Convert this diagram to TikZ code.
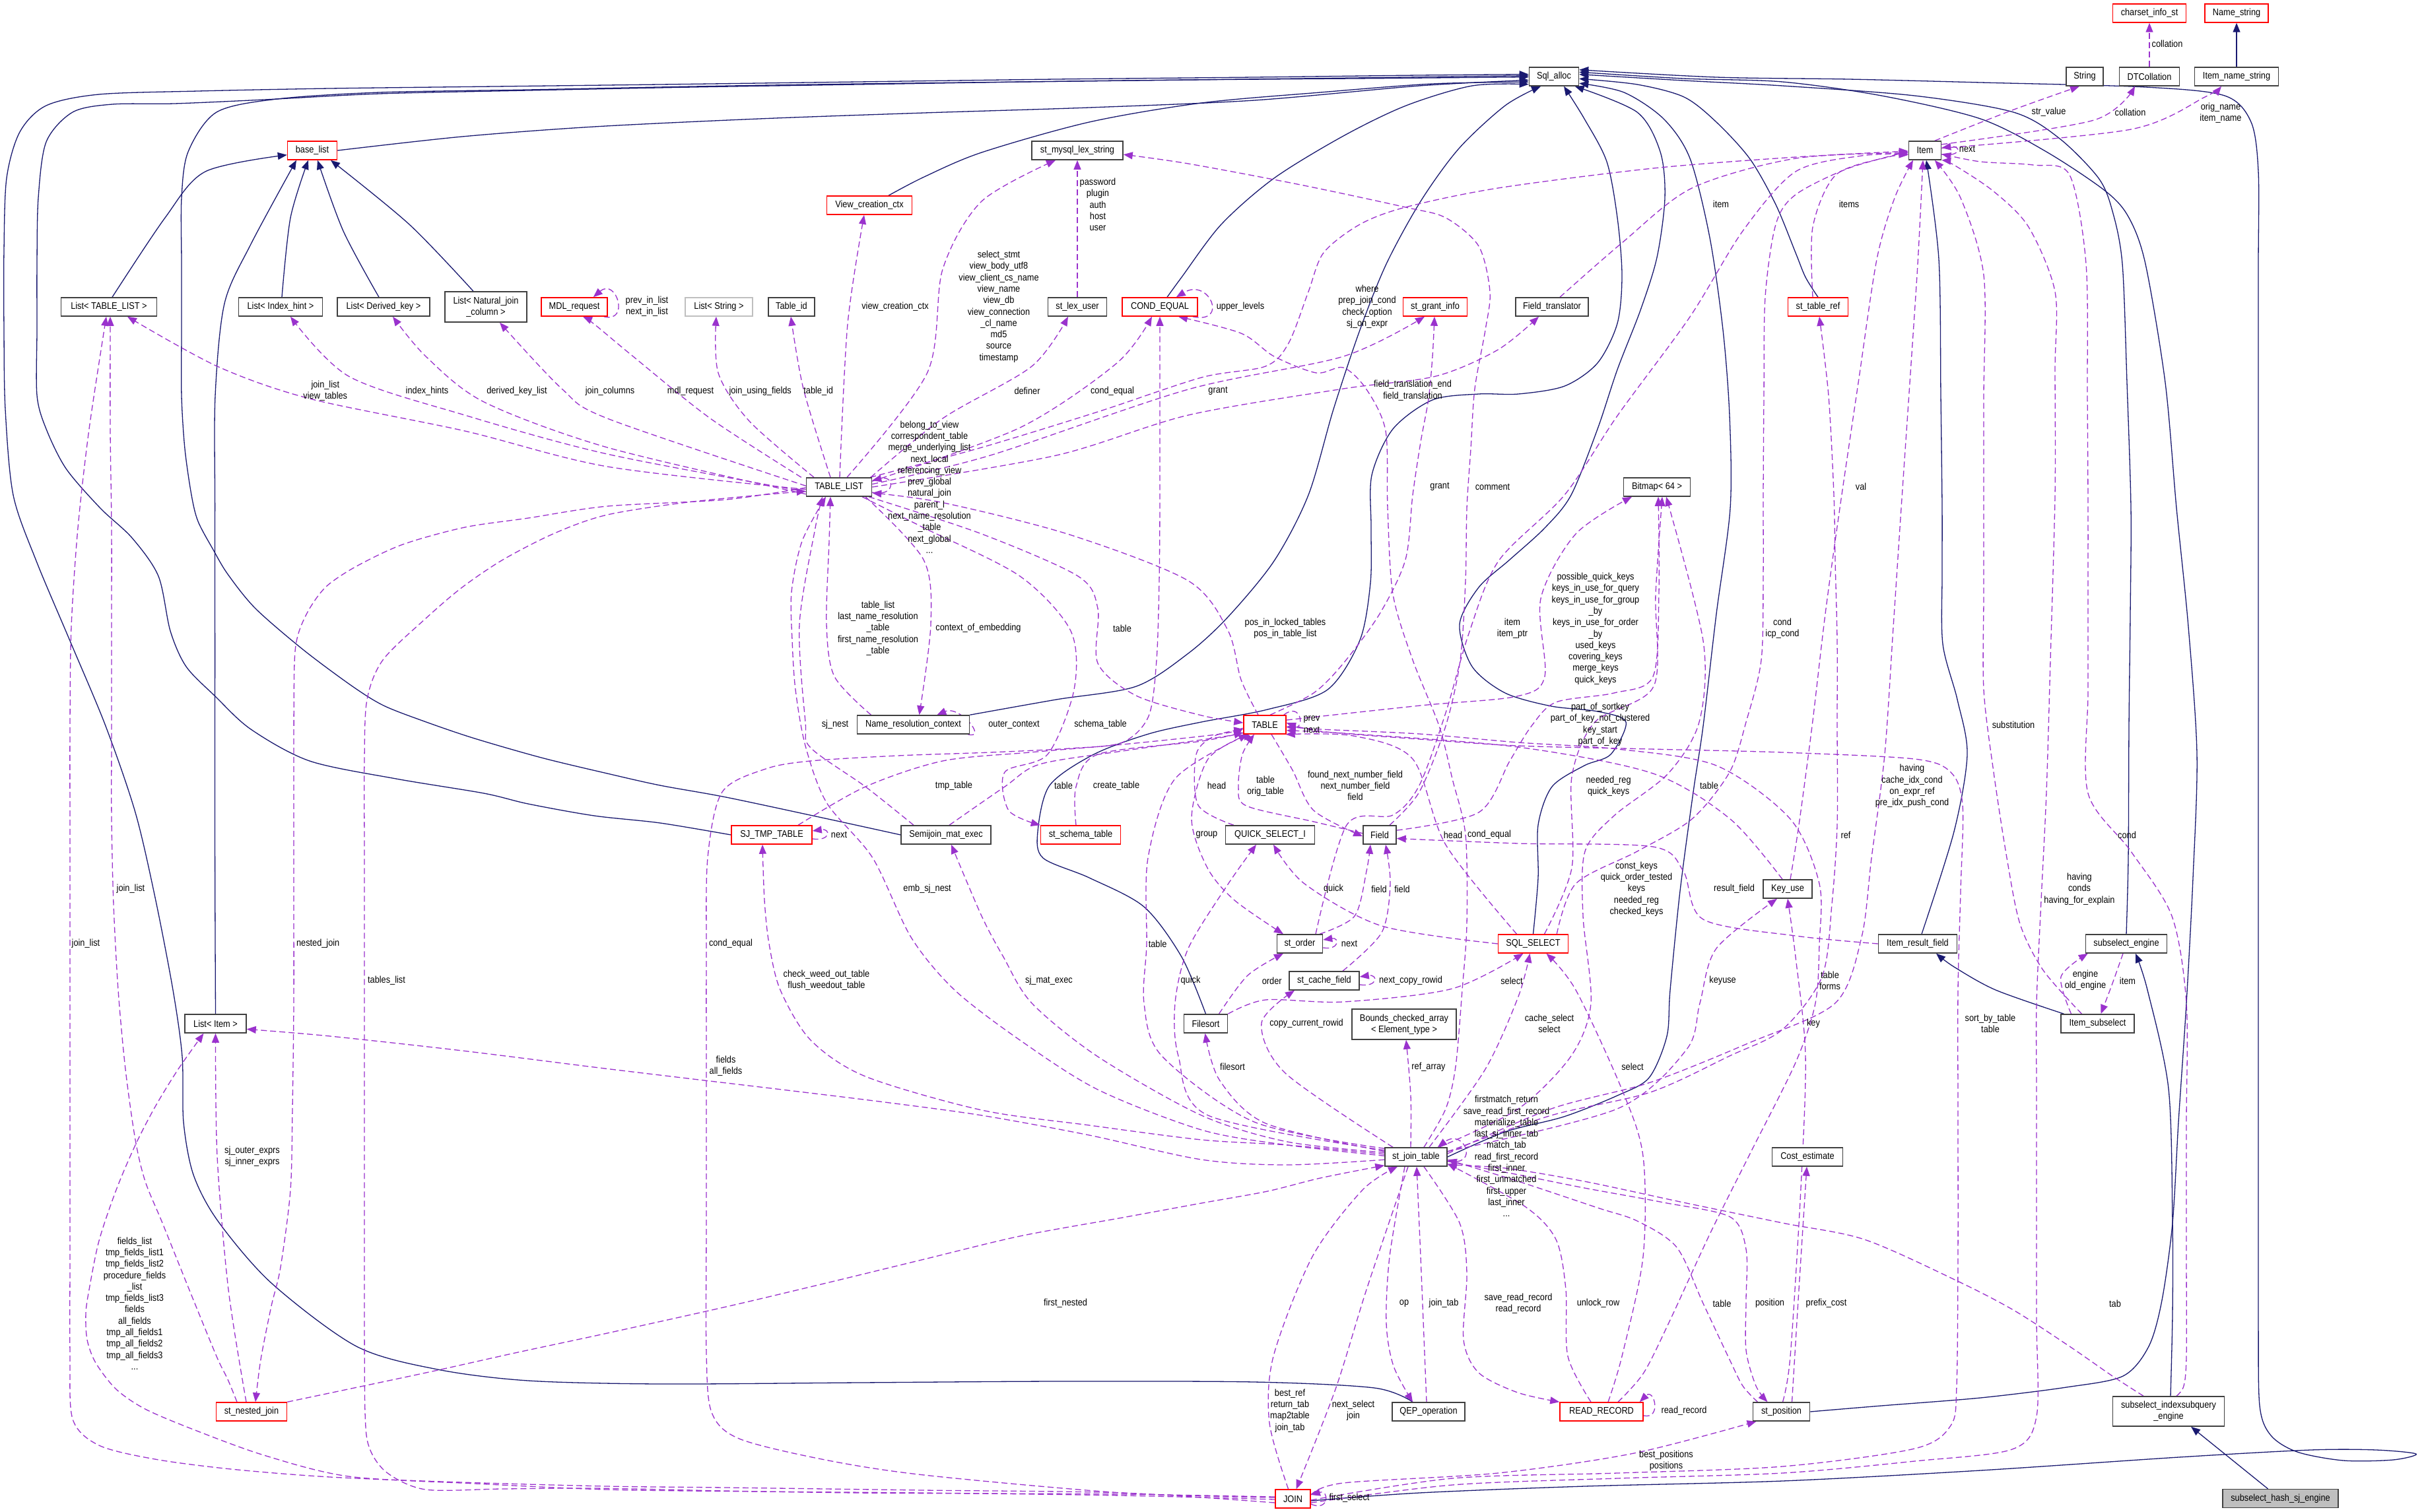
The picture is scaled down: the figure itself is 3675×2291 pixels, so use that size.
\documentclass[tikz,border=0pt]{standalone}
\usepackage{fontspec}
\setmainfont{Liberation Sans}[FakeStretch=0.88]
\usetikzlibrary{arrows.meta}
\definecolor{navyc}{HTML}{191970}
\definecolor{orch}{HTML}{9A32CD}
\definecolor{bline}{HTML}{404040}
\definecolor{gfill}{HTML}{BFBFBF}
\newcommand{\lf}{\fontsize{14.5}{17.3}\selectfont}
\newcommand{\edg}[2]{\draw[#1] plot[smooth,tension=0.5] coordinates {#2};}
\pgfdeclarelayer{bg}
\pgfsetlayers{bg,main}
\begin{document}
\begin{tikzpicture}[x=1pt,y=-1pt,
 cbox/.style={draw=bline,line width=1.5pt,fill=white,minimum height=28pt,inner sep=2pt,font=\lf,align=center},
 rcbox/.style={cbox,draw=red},
 gcbox/.style={cbox,draw=gfill},
 lbl/.style={font=\lf,align=center,inner sep=0pt},
 inh/.style={draw=navyc,line width=1.3pt,-{Triangle[length=14pt,width=11pt]}},
 dep/.style={draw=orch,line width=1.3pt,dash pattern=on 9pt off 5pt,-{Triangle[length=14pt,width=11pt]}}]
\useasboundingbox (0,0) rectangle (3675,2291);
% ---------------- nodes
\node[cbox,minimum width=75pt] (SA) at (2354,116) {Sql\_alloc};
\node[rcbox,minimum width=75pt] (BL) at (473,228) {base\_list};
\node[cbox,minimum width=145pt] (LTL) at (165,465) {List< TABLE\_LIST >};
\node[cbox,minimum width=127pt] (LIH) at (425,465) {List< Index\_hint >};
\node[cbox,minimum width=140pt] (LDK) at (581,465) {List< Derived\_key >};
\node[cbox,minimum width=124pt,minimum height=46pt] (LNJ) at (736,465) {List< Natural\_join\\\_column >};
\node[rcbox,minimum width=100pt] (MDL) at (870,465) {MDL\_request};
\node[gcbox,minimum width=102pt] (LS) at (1089,465) {List< String >};
\node[cbox,minimum width=70pt] (TID) at (1199,465) {Table\_id};
\node[rcbox,minimum width=129pt] (VCC) at (1317,311) {View\_creation\_ctx};
\node[cbox,minimum width=138pt] (MLS) at (1632,228) {st\_mysql\_lex\_string};
\node[cbox,minimum width=89pt] (LU) at (1632,465) {st\_lex\_user};
\node[rcbox,minimum width=114pt] (CE) at (1757,465) {COND\_EQUAL};
\node[cbox,minimum width=99pt] (TL) at (1271,738) {TABLE\_LIST};
\node[rcbox,minimum width=97pt] (GI) at (2174,465) {st\_grant\_info};
\node[cbox,minimum width=110pt] (FT) at (2351,465) {Field\_translator};
\node[cbox,minimum width=101pt] (BM) at (2510,738) {Bitmap< 64 >};
\node[rcbox,minimum width=111pt] (CIS) at (3256,20) {charset\_info\_st};
\node[rcbox,minimum width=96pt] (NS) at (3388,20) {Name\_string};
\node[cbox,minimum width=56pt] (STR) at (3158,116) {String};
\node[cbox,minimum width=91pt] (DTC) at (3256,116) {DTCollation};
\node[cbox,minimum width=127pt] (INS) at (3388,116) {Item\_name\_string};
\node[cbox,minimum width=49pt] (IT) at (2916,228) {Item};
\node[rcbox,minimum width=91pt] (TR) at (2754,465) {st\_table\_ref};
\node[cbox,minimum width=170pt] (NRC) at (1383.5,1098) {Name\_resolution\_context};
\node[rcbox,minimum width=122pt] (SJT) at (1169,1265) {SJ\_TMP\_TABLE};
\node[cbox,minimum width=136pt] (SME) at (1433,1265) {Semijoin\_mat\_exec};
\node[rcbox,minimum width=121pt] (SST) at (1637,1265) {st\_schema\_table};
\node[rcbox,minimum width=64pt] (TB) at (1916,1098) {TABLE};
\node[cbox,minimum width=135pt] (QS) at (1924,1265) {QUICK\_SELECT\_I};
\node[cbox,minimum width=50pt] (FD) at (2090,1265) {Field};
\node[cbox,minimum width=69pt] (SO) at (1969,1430) {st\_order};
\node[cbox,minimum width=106pt] (SCF) at (2006,1486) {st\_cache\_field};
\node[rcbox,minimum width=106pt] (SS) at (2322.5,1430) {SQL\_SELECT};
\node[cbox,minimum width=74pt] (KU) at (2708,1347) {Key\_use};
\node[cbox,minimum width=119pt] (IRF) at (2905,1430) {Item\_result\_field};
\node[cbox,minimum width=123pt] (SE) at (3221,1430) {subselect\_engine};
\node[cbox,minimum width=93pt] (LI) at (326.5,1551) {List< Item >};
\node[rcbox,minimum width=107pt] (NJ) at (381,2139) {st\_nested\_join};
\node[cbox,minimum width=66pt] (FS) at (1826.5,1551) {Filesort};
\node[cbox,minimum width=158pt,minimum height=46pt] (BCA) at (2127,1552) {Bounds\_checked\_array\\< Element\_type >};
\node[cbox,minimum width=94pt] (JT) at (2145,1753) {st\_join\_table};
\node[cbox,minimum width=110pt] (QEP) at (2164,2139) {QEP\_operation};
\node[rcbox,minimum width=126pt] (RR) at (2426,2139) {READ\_RECORD};
\node[cbox,minimum width=86pt] (SP) at (2698.5,2139) {st\_position};
\node[rcbox,minimum width=53pt] (JN) at (1958.6,2271) {JOIN};
\node[cbox,minimum width=107pt] (CEST) at (2738,1753) {Cost\_estimate};
\node[cbox,minimum width=111pt] (IS) at (3177.5,1551) {Item\_subselect};
\node[cbox,minimum width=169pt,minimum height=45pt] (SIE) at (3285,2138.5) {subselect\_indexsubquery\\\_engine};
\node[cbox,fill=gfill,minimum width=175pt] (HSJ) at (3454.5,2270.6) {subselect\_hash\_sj\_engine};
% ---------------- edges
\begin{pgfonlayer}{bg}
\fill[white] (0,0) rectangle (3675,2291);
% inheritance
\edg{inh}{(BL.east) (700,207) (900,192) (1150,180) (1400,171) (1650,163) (1900,152) (2150,130) (SA.-172)}
\edg{inh}{([xshift=29pt]VCC.north) (1400,268) (1487,231) (1650,185) (1820,156) (2000,140) (2170,127) (SA.-168)}
\edg{inh}{([xshift=11pt]CE.north) (1790,420) (1850,340) (1930,270) (2035,206) (2130,160) (2230,130) (SA.-163)}
\edg{inh}{([xshift=-24pt]QEP.north) (2082,2103) (1900,2094) (1600,2093) (1300,2095) (1000,2097) (800,2092) (663,2075) (540,2040) (411,1944) (330,1850) (293,1780) (278,1700) (276,1601) (262,1500) (235,1360) (205,1231) (160,1100) (106,971) (55,850) (20,750) (8,620) (6,500) (6,380) (10,270) (30,200) (70,160) (150,143) (300,138) (500,134) (750,131) (1000,128) (1300,124) (1600,120) (1900,117) (2150,114) (SA.175)}
\edg{inh}{(SJT.west) (1000,1247) (900,1236) (800,1218) (733,1202) (600,1180) (469,1153) (380,1105) (326,1055) (282,1010) (258,956) (240,873) (200,815) (152,770) (100,710) (70,650) (56,599) (56,500) (56,400) (58,300) (70,215) (110,170) (170,158) (264,157) (400,151) (575,142) (800,137) (1050,132) (1300,128) (1550,124) (1800,121) (2050,118) (SA.178)}
\edg{inh}{(SME.west) (1250,1240) (1100,1208) (1000,1190) (920,1172) (820,1148) (716,1118) (640,1092) (581,1069) (534,1040) (460,985) (387,922) (345,870) (323,833) (300,790) (290,750) (280,680) (275,600) (275,500) (275,400) (275,300) (285,230) (328,170) (420,150) (575,140) (800,136) (1050,131) (1300,127) (1550,124) (1800,121) (2050,119) (SA.-179)}
\edg{inh}{(NRC.north east) (1600,1060) (1721,1040) (1800,990) (1860,935) (1930,850) (1982,750) (2020,620) (2060,500) (2100,400) (2152,305) (2210,225) (2280,160) ([xshift=-20pt]SA.south)}
\edg{inh}{(FS.north) (1790,1450) (1733,1374) (1650,1330) (1580,1300) (1572,1260) (1590,1190) (1657,1143) (1740,1112) (1820,1094) (1920,1075) (2011,1045) (2060,970) (2076,883) (2077,800) (2078,720) (2110,650) (2170,606) (2240,597) (2300,597) (2370,585) (2420,550) (2450,490) (2457,417) (2450,330) (2434,245) (2400,180) ([xshift=15pt]SA.south)}
\edg{inh}{(SS.north) (2330,1330) (2330,1250) (2351,1192) (2400,1160) (2440,1143) (2463,1094) (2420,1078) (2350,1070) (2280,1050) (2230,1010) (2211,946) (2240,890) (2287,848) (2340,800) (2380,750) (2420,650) (2450,560) (2485,470) (2510,390) (2522,300) (2515,230) (2480,170) (SA.-25)}
\edg{inh}{(JT.east) (2280,1715) (2369,1692) (2450,1660) (2498,1633) (2525,1570) (2530,1500) (2545,1350) (2565,1200) (2580,1100) (2600,930) (2621,770) (2620,630) (2610,500) (2590,360) (2560,240) (2520,180) (2460,140) (SA.-15)}
\edg{inh}{(TR.north) (2735,420) (2720,383) (2690,310) (2651,241) (2600,185) (2551,147) (2480,128) (SA.-5)}
\edg{inh}{(SE.north) (3224,1300) (3225,1100) (3227,930) (3228,770) (3222,580) (3215,400) (3200,320) (3179,270) (3120,210) (3050,170) (2900,145) (2700,130) (2550,122) (SA.5)}
\edg{inh}{(SP.east) (2850,2130) (3000,2118) (3130,2102) (3216,2085) (3255,2040) (3275,1970) (3291,1853) (3300,1700) (3312,1520) (3322,1330) (3328,1143) (3315,950) (3297,770) (3280,580) (3250,400) (3225,330) (3190,290) (3100,230) (3000,180) (2850,145) (2700,124) (2550,119) (SA.10)}
\edg{inh}{([yshift=-3pt]JN.east) (2150,2262) (2400,2252) (2700,2244) (3000,2228) (3300,2208) (3500,2197) (3600,2197) (3660,2203) (3625,2212) (3550,2213) (3480,2200) (3440,2175) (3423,2130) (3421,2000) (3421,1800) (3421,1600) (3421,1400) (3421,1200) (3421,1000) (3421,800) (3421,600) (3421,400) (3421,260) (3410,185) (3370,145) (3250,132) (3000,125) (2800,120) (2600,117) (SA.15)}
\edg{inh}{([xshift=5pt]LTL.north) (250,330) (311,260) (BL.-170)}
\edg{inh}{([xshift=2pt]LIH.north) (440,330) ([xshift=-6pt]BL.south)}
\edg{inh}{([xshift=-7pt]LDK.north) (520,350) ([xshift=8pt]BL.south)}
\edg{inh}{([xshift=-19pt]LNJ.north) (620,340) ([xshift=28pt]BL.south)}
\edg{inh}{(LI.north) (325.6,1300) (325.6,1000) (325.6,770) (326,600) (340,460) (380,370) ([xshift=-24pt]BL.south)}
\edg{inh}{([xshift=6pt]IRF.north) (2960,1260) (2980,1143) (2965,1060) (2943,976) (2942,870) (2942,770) (2940,600) (2937,393) ([xshift=2pt]IT.south)}
\edg{inh}{([xshift=-51pt]IS.north) (3023,1500) (2960,1465) ([xshift=28pt]IRF.south)}
\edg{inh}{([xshift=3pt]SIE.north) (3291,1990) (3291,1853) (3285,1650) (3253,1500) ([xshift=14pt]SE.south)}
\draw[inh] ([xshift=-19pt]HSJ.north) -- ([xshift=34pt]SIE.south);
\draw[inh] (INS) -- (NS);
% usage
\draw[dep] (DTC) -- (CIS);
\edg{dep}{(IT.45) (3048,167) ([xshift=-8pt]STR.south)}
\edg{dep}{(IT.20) (3172,182) ([xshift=-22pt]DTC.south)}
\edg{dep}{(IT.8) (3228,196) (3340,147) ([xshift=-23pt]INS.south)}
\draw[dep] ([yshift=-6pt]IT.east) .. controls +(30,4) and +(30,-4) .. ([yshift=4pt]IT.east);
\edg{dep}{([xshift=12pt]FT.north) (2457,368) (2563,285) (2720,240) (IT.-172)}
\edg{dep}{([xshift=-8pt]TR.north) (2746,344) (2781,265) (2860,238) (IT.-165)}
\draw[dep] (LU) -- (MLS);
\edg{dep}{([xshift=12pt]TL.north) (1404.6,565) (1428,408) (1487,305) ([xshift=-33pt]MLS.south)}
\edg{dep}{([xshift=1pt]TL.north) (1284,491) ([xshift=-8pt]VCC.south)}
\draw[dep] ([xshift=-6pt]MDL.south east) .. controls +(40,10) and +(35,-30) .. ([xshift=-22pt]MDL.north east);
\draw[dep] ([xshift=-8pt]CE.south east) .. controls +(55,12) and +(50,-30) .. ([xshift=-33pt]CE.north east);
\edg{dep}{([xshift=-3pt]TL.north east) (1487,678) (1663,624) (1820,572) (1917,555) (1952,520) (1982,442) (2005,383) (2060,340) (2129,314) (2269,285) (2504,255) (2720,238) (IT.-178)}
\edg{dep}{(TL.-176) (920,707) (704,653) (469,604) (329,555) ([xshift=28pt]LTL.south)}
\edg{dep}{(TL.-172) (920,688) (704,629) (528,570) ([xshift=15pt]LIH.south)}
\edg{dep}{(TL.-168) (920,678) (733,609) (645,540) ([xshift=14pt]LDK.south)}
\edg{dep}{(TL.178) (920,634) (851,589) ([xshift=21pt]LNJ.south)}
\edg{dep}{([xshift=-7pt]TL.north west) (1076,634) (959,540) (900,491) ([xshift=13pt]MDL.south)}
\edg{dep}{([xshift=-38pt]TL.north) (1135,638) (1088,565) ([xshift=-4pt]LS.south)}
\edg{dep}{([xshift=-13pt]TL.north) (1217,589) ([xshift=-1pt]TID.south)}
\edg{dep}{([xshift=48pt]TL.north) (1428,634) (1563,555) ([xshift=-14pt]LU.south)}
\edg{dep}{(TL.10) (1545,648) (1692,550) ([xshift=-12pt]CE.south)}
\edg{dep}{(TL.5) (1500,690) (1800,590) (2035,540) ([xshift=-16pt]GI.south)}
\edg{dep}{(TL.0) (1600,690) (1800,629) (2035,589) (2175,570) (2269,530) ([xshift=-20pt]FT.south)}
\draw[dep] ([yshift=-8pt]TL.east) .. controls +(35,8) and +(35,-8) .. ([yshift=10pt]TL.east);
\edg{dep}{([xshift=8pt]TB.north) (1990,1050) (2035,1005) (2090,930) (2129,848) (2140,750) (2152,670) (2164,604) (2170,540) ([xshift=-1pt]GI.south)}
\edg{dep}{([xshift=15pt]FD.north) (2150,1200) (2190,1100) (2212,1000) (2220,880) (2222,770) (2228,680) (2234,589) (2250,500) (2257,442) (2240,373) (2190,330) (2129,314) (1970,280) (1800,248) (MLS.-5)}
\edg{dep}{([xshift=4pt]KU.north) (2725,1250) (2745,1100) (2765,930) (2787,770) (2815,580) (2843,393) (2870,300) ([xshift=-18pt]IT.south)}
\edg{dep}{([xshift=-64pt]NRC.north) (1264,1025) (1252,946) (1256,820) ([xshift=-13pt]TL.south)}
\edg{dep}{([xshift=40pt]TL.south) (1399,848) (1410,946) ([xshift=9pt]NRC.north)}
\edg{dep}{([xshift=45pt]TL.south) (1487,809) (1633,873) (1663,922) (1663,1005) (1721,1054) (1820,1084) (TB.175)}
\edg{dep}{([xshift=-10pt]TB.north) (1880,1030) (1860,955) (1800,880) (1620,810) (1430,762) (TL.-10)}
\edg{dep}{([xshift=24pt]SO.north) (2040,1250) (2110,1235) (2150,1190) (2190,1080) (2225,960) (2270,850) (2370,750) (2450,630) (2560,480) (2640,350) (2720,260) (2820,236) (IT.-168)}
\edg{dep}{(TB.12) (2152,1069) (2298,1055) (2340,1025) (2334,907) (2387,809) ([xshift=-38pt]BM.south)}
\edg{dep}{([xshift=-18pt]SS.north east) (2387,1339) (2480,1290) (2563,1241) (2620,1170) (2645,1094) (2668,1000) (2671,870) (2671,750) (2672,600) (2674,450) (2690,340) (2720,295) (2800,255) (IT.-176)}
\edg{dep}{([xshift=-49pt]SME.north) (1311,1192) (1228,1133) (1220,1094) (1211,946) (1235,800) ([xshift=-25pt]TL.south)}
\draw[dep] ([xshift=-3pt]NRC.south east) .. controls +(30,8) and +(35,-15) .. ([xshift=-50pt]NRC.north east);
\edg{dep}{([xshift=35pt]TL.south) (1400,800) (1545,873) (1622,956) (1627,1045) (1587,1143) (1522,1170) (1528,1228) (SST.north west)}
\draw[dep] ([xshift=-4pt]TB.north east) .. controls +(25,-20) and +(28,0) .. ([yshift=-4pt]TB.east);
\edg{dep}{(FD.15) (2240,1231) (2287,1153) (2320,1100) (2357,1064) (2445,1050) (2504,1025) (2513,897) ([xshift=2pt]BM.south)}
\edg{dep}{([xshift=-24pt]IS.north) (3095,1470) (3060,1400) (3040,1300) (3020,1170) (3005,1045) (3005,900) (3005,770) (3005,600) (3005,417) (2970,300) (IT.-45)}
\edg{dep}{([yshift=5pt]JT.east) (2350,1680) (2500,1640) (2650,1580) (2780,1520) (2820,1420) (2835,1300) (2855,1143) (2868,950) (2880,770) (2893,580) (2905,400) ([xshift=-3pt]IT.south)}
\edg{dep}{([xshift=-55pt]QS.north) (1815,1220) (1812,1143) (1840,1115) (TB.-168)}
\edg{dep}{(FD.175) (1990,1245) (1888,1221) (1876,1192) (1882,1143) ([xshift=-16pt]TB.south)}
\edg{dep}{([xshift=10pt]TB.south) (1958,1167) (1990,1228) (FD.-175)}
\edg{dep}{([xshift=17pt]SS.north) (2381,1315) (2381,1177) (2416,1094) (2505,1040) (2508,900) ([xshift=8pt]BM.south)}
\edg{dep}{([xshift=-8pt]KU.north) (2621,1241) (2504,1172) (2300,1132) (2050,1112) (TB.-15)}
\edg{dep}{([xshift=40pt]SJT.north) (1311,1192) (1428,1153) (1560,1140) (1700,1128) (1850,1112) (TB.-172)}
\edg{dep}{([xshift=5pt]SME.north) (1522,1192) (1575,1158) (1700,1138) (1860,1115) (TB.-165)}
\edg{dep}{([xshift=-7pt]SST.north) (1630,1192) (1663,1143) (1820,1123) (TB.-160)}
\edg{dep}{(TB.-150) (1830,1150) (1805,1240) (1829,1315) (1870,1364) ([xshift=-25pt]SO.north)}
\edg{dep}{([xshift=-25pt]SS.north) (2190,1280) (2140,1150) (2050,1115) (TB.-25)}
\edg{dep}{([xshift=12pt]JT.north) (2190,1680) (2205,1616) (2215,1500) (2222,1400) (2220,1265) (2200,1180) (2180,1100) (2140,1000) (2110,900) (2102,770) (2099,653) (2070,590) (2035,557) (1994,565) (1930,540) (1880,505) ([xshift=28pt]CE.south)}
\draw[dep] ([yshift=-6pt]SJT.east) .. controls +(28,4) and +(28,-4) .. ([yshift=6pt]SJT.east);
\edg{dep}{([yshift=8pt]JT.east) (2350,1690) (2500,1655) (2620,1600) (2700,1560) (2760,1480) (2775,1370) (2783,1250) (2783,1100) (2783,971) (2780,850) (2778,750) (2770,600) ([xshift=2pt]TR.south)}
\edg{dep}{([xshift=12pt]SIE.north) (3308,2100) (3312,2055) (3312,1900) (3312,1700) (3312,1520) (3290,1388) (3228,1290) (3163,1202) (3163,1050) (3163,900) (3163,770) (3162,600) (3160,400) (3135,265) (3080,250) (3000,245) (IT.-12)}
\edg{dep}{([xshift=35pt]JT.north) (2300,1680) (2380,1600) (2410,1520) (2398,1388) (2401,1290) (2445,1236) (2527,1172) (2574,1094) (2580,971) ([xshift=14pt]BM.south)}
\edg{dep}{(IRF.west) (2720,1418) (2580,1393) (2550,1320) (2504,1283) (2300,1278) (FD.-12)}
\edg{dep}{(SS.west) (2093,1403) (1976,1339) ([xshift=5pt]QS.south)}
\edg{dep}{([xshift=30pt]SO.north) (2052,1388) (2070,1320) ([xshift=-14pt]FD.south)}
\edg{dep}{([xshift=28pt]SCF.north) (2093,1413) (2106,1339) ([xshift=9pt]FD.south)}
\edg{dep}{(JT.178) (1950,1735) (1820,1712) (1663,1651) (1545,1576) (1446,1500) (1380,1420) (1322,1300) (1252,1216) (1220,1130) (1205,1045) (1200,970) (1199,897) (1215,820) ([xshift=-20pt]TL.south)}
\edg{dep}{([xshift=-22pt]NJ.north) (345,2090) (328,2055) (285,1950) (246,1853) (220,1790) (205,1727) (190,1620) (179,1500) (172,1370) (169,1241) (169,1100) (169,950) (169,800) (167,650) ([xshift=2pt]LTL.south)}
\edg{dep}{([yshift=-6pt]JN.east) (2200,2250) (2450,2240) (2700,2232) (2900,2214) (3048,2196) (3085,2146) (3085,2000) (3085,1800) (3085,1650) (3085,1520) (3092,1364) (3100,1200) (3106,1000) (3113,750) (3113,560) (3113,442) (3073,344) (3020,290) (2960,250) (IT.-30)}
\edg{dep}{([yshift=2pt]JN.west) (1700,2262) (1400,2235) (1250,2212) (1120,2180) (1078,2140) (1070,2050) (1070,1850) (1070,1650) (1070,1450) (1072,1300) (1094,1200) (1160,1165) (1228,1153) (1360,1145) (1500,1140) (1620,1134) (1700,1125) (1740,1085) (1752,1000) (1756,880) (1757,760) (1757,640) (1757,540) (CE.south)}
\edg{dep}{([yshift=-6pt]JN.west) (1700,2262) (1400,2258) (1100,2254) (920,2252) (700,2246) (500,2238) (350,2226) (235,2211) (150,2190) (110,2150) (106,2050) (106,1900) (106,1700) (106,1500) (106,1300) (106,1100) (108,950) (118,800) (135,650) ([xshift=-4pt]LTL.south)}
\edg{dep}{(TL.-179) (1100,757) (920,767) (800,785) (704,799) (610,825) (540,858) (495,888) (469,922) (452,960) (446,1005) (445,1150) (445,1350) (445,1520) (443,1680) (440,1803) (425,1920) (411,1979) (395,2060) ([xshift=6pt]NJ.north)}
\edg{dep}{(JT.165) (1900,1700) (1760,1600) (1733,1520) (1737,1430) (1739,1300) (1780,1180) (TB.-150)}
\draw[dep] ([yshift=-6pt]SO.east) .. controls +(25,4) and +(25,-4) .. ([yshift=6pt]SO.east);
\edg{dep}{(JT.175) (1950,1735) (1820,1727) (1650,1705) (1487,1682) (1311,1631) (1228,1576) (1182,1500) (1165,1430) (1158,1364) ([xshift=-14pt]SJT.south)}
\edg{dep}{(JT.172) (1950,1730) (1820,1690) (1663,1601) (1563,1520) (1520,1450) (1487,1388) ([xshift=8pt]SME.south)}
\edg{dep}{(JT.168) (1830,1690) (1785,1600) (1780,1520) (1800,1437) (1860,1340) ([xshift=-21pt]QS.south)}
\edg{dep}{([xshift=20pt]FS.north) (1890,1478) ([xshift=-25pt]SO.south)}
\draw[dep] ([yshift=-6pt]SCF.east) .. controls +(28,4) and +(28,-4) .. ([yshift=6pt]SCF.east);
\edg{dep}{(FS.north east) (1917,1515) (2035,1518) (2200,1498) ([xshift=-15pt]SS.south)}
\edg{dep}{(JT.10) (2450,1680) (2555,1590) (2575,1520) (2600,1437) ([xshift=-16pt]KU.south)}
\edg{dep}{([xshift=25pt]RR.north) (2490,2080) (2530,2000) (2590,1870) (2650,1750) (2720,1610) (2750,1520) (2756,1430) (2756,1339) (2712,1241) (2600,1160) (2450,1135) (2300,1125) (2150,1112) (2000,1105) (TB.-5)}
\edg{dep}{([xshift=-40pt]IS.north) (3122,1480) ([xshift=4pt]SE.south west)}
\edg{dep}{([xshift=-5pt]SE.south) (3200,1490) ([xshift=5pt]IS.north)}
\edg{dep}{([yshift=3pt]JN.west) (1700,2264) (1500,2263) (1300,2262) (1100,2259) (900,2255) (760,2256) (645,2257) (587,2232) (560,2195) (553,2140) (552,1950) (552,1750) (552,1500) (552,1300) (552,1150) (556,1060) (580,1000) (645,937) (700,890) (762,848) (840,808) (920,780) (1050,760) (TL.-173)}
\edg{dep}{([xshift=-35pt]JT.north) (1947,1626) (1911,1550) ([xshift=-45pt]SCF.south)}
\edg{dep}{([xshift=20pt]JT.north) (2250,1620) (2300,1510) ([xshift=-5pt]SS.south)}
\edg{dep}{([xshift=2pt]SP.north) (2712,2055) (2728,1800) (2735,1600) (2720,1450) (KU.south)}
\edg{dep}{([yshift=-2pt]JN.east) (2200,2240) (2450,2232) (2700,2222) (2900,2195) (2955,2160) (2964,2100) (2966,1900) (2966,1700) (2966,1500) (2970,1350) (2973,1220) (2955,1170) (2900,1150) (2700,1140) (2500,1135) (2300,1130) (2150,1120) (2000,1108) (TB.5)}
\edg{dep}{(JT.-175) (1950,1765) (1820,1757) (1650,1720) (1487,1690) (1340,1670) (1193,1652) (1050,1635) (900,1617) (700,1592) (500,1570) (LI.-10)}
\edg{dep}{(JT.170) (1917,1702) (1847,1636) ([xshift=-1pt]FS.south)}
\edg{dep}{([xshift=-8pt]JT.north) (2137,1660) ([xshift=3pt]BCA.south)}
\edg{dep}{([xshift=10pt]RR.north) (2457,2055) (2489,1904) (2489,1752) (2457,1651) (2387,1500) ([xshift=20pt]SS.south)}
\draw[dep] ([yshift=-6pt]JT.east) .. controls +(50,10) and +(40,-30) .. ([xshift=-15pt]JT.north east);
\edg{dep}{([xshift=-8pt]NJ.north) (346,1954) (329,1752) (LI.south)}
\edg{dep}{(NJ.north east) (645,2080) (780,2050) (920,2020) (1100,1980) (1252,1944) (1400,1908) (1545,1873) (1700,1845) (1820,1823) (1920,1805) (2000,1785) (JT.-165)}
\edg{dep}{([xshift=-17pt]JT.south) (2105,1904) (2100,2005) (2111,2070) ([xshift=-24pt]QEP.north)}
\edg{dep}{([xshift=-3pt]QEP.north) (2152,1904) ([xshift=1pt]JT.south)}
\edg{dep}{([xshift=12pt]JT.south) (2211,1853) (2222,1929) (2217,2030) (2240,2080) (2299,2110) (RR.north west)}
\edg{dep}{([xshift=-16pt]RR.north) (2375,2055) (2372,1954) (2357,1878) (2310,1828) (JT.-12)}
\edg{dep}{([xshift=-36pt]SP.north) (2640,2100) (2620,2060) (2580,1975) (2540,1890) (2480,1850) (2420,1830) (2300,1790) (JT.-5)}
\edg{dep}{(JT.-8) (2300,1780) (2400,1800) (2520,1822) (2621,1844) (2645,1893) (2645,1970) (2645,2046) (2660,2100) ([xshift=-21pt]SP.north)}
\edg{dep}{([xshift=16pt]SP.north) (2725,1954) ([xshift=-1pt]CEST.south)}
\edg{dep}{([xshift=-38pt]SIE.north) (3200,2085) (3135,2040) (3050,1985) (2961,1939) (2824,1878) (2700,1853) (2550,1822) (2400,1790) (2280,1770) (JT.-14)}
\edg{dep}{([yshift=-1pt]JN.west) (1700,2266) (1400,2262) (1150,2260) (920,2257) (720,2248) (528,2237) (400,2205) (293,2166) (220,2135) (176,2105) (145,2065) (132,2030) (130,1990) (135,1954) (150,1880) (176,1803) (205,1735) (235,1677) (270,1620) ([xshift=-18pt]LI.south)}
\edg{dep}{([xshift=-7pt]JN.north) (1923,2156) (1929,2055) (1988,1904) (2064,1803) ([xshift=-28pt]JT.south)}
\edg{dep}{([xshift=-12pt]JT.south) (2070,1954) (2023,2105) ([xshift=5pt]JN.north)}
\draw[dep] ([yshift=-6pt]RR.east) .. controls +(28,6) and +(22,-22) .. ([xshift=-6pt]RR.north east);
\edg{dep}{([yshift=6pt]JN.east) (2035,2247) (2269,2232) (2475,2202) ([xshift=-38pt]SP.south)}
\draw[dep] ([yshift=-8pt]JN.east) .. controls +(28,12) and +(28,-8) .. ([yshift=6pt]JN.east);
\end{pgfonlayer}
% ---------------- labels
\node[lbl] (l1) at (3283,66) {collation};
\node[lbl] (l2) at (3103.5,170) {str\_value};
\node[lbl] (l3) at (3227,170) {collation};
\node[lbl] (l4) at (3364,171) {orig\_name\\item\_name};
\node[lbl] (l5) at (2980,226) {next};
\node[lbl] (l6) at (2607,309) {item};
\node[lbl] (l7) at (2801,309) {items};
\node[lbl] (l8) at (1663,310) {password\\plugin\\auth\\host\\user};
\node[lbl] (l9) at (1513,464.6) {select\_stmt\\view\_body\_utf8\\view\_client\_cs\_name\\view\_name\\view\_db\\view\_connection\\\_cl\_name\\md5\\source\\timestamp};
\node[lbl] (l10) at (1356,464.6) {view\_creation\_ctx};
\node[lbl] (l11) at (980,464) {prev\_in\_list\\next\_in\_list};
\node[lbl] (l12) at (1879,464.6) {upper\_levels};
\node[lbl] (l13) at (2071,464.6) {where\\prep\_join\_cond\\check\_option\\sj\_on\_expr};
\node[lbl] (l14) at (492.8,592) {join\_list\\view\_tables};
\node[lbl] (l15) at (647,592.8) {index\_hints};
\node[lbl] (l16) at (783,592.8) {derived\_key\_list};
\node[lbl] (l17) at (924,592.8) {join\_columns};
\node[lbl] (l18) at (1046,592.8) {mdl\_request};
\node[lbl] (l19) at (1151.7,592.8) {join\_using\_fields};
\node[lbl] (l20) at (1239.7,592.8) {table\_id};
\node[lbl] (l21) at (1556,592.8) {definer};
\node[lbl] (l22) at (1685,592.8) {cond\_equal};
\node[lbl] (l23) at (1845,592.8) {grant};
\node[lbl] (l24) at (2140,591.8) {field\_translation\_end\\field\_translation};
\node[lbl] (l25) at (1408,738) {belong\_to\_view\\correspondent\_table\\merge\_underlying\_list\\next\_local\\referencing\_view\\prev\_global\\natural\_join\\parent\_l\\next\_name\_resolution\\\_table\\next\_global\\...};
\node[lbl] (l26) at (2181,737.6) {grant};
\node[lbl] (l27) at (2261,737.6) {comment};
\node[lbl] (l28) at (2819,737.6) {val};
\node[lbl] (l29) at (1330,952) {table\_list\\last\_name\_resolution\\\_table\\first\_name\_resolution\\\_table};
\node[lbl] (l30) at (1482,952) {context\_of\_embedding};
\node[lbl] (l31) at (1700,952) {table};
\node[lbl] (l32) at (1947,952) {pos\_in\_locked\_tables\\pos\_in\_table\_list};
\node[lbl] (l33) at (2291,952) {item\\item\_ptr};
\node[lbl] (l34) at (2417,952.6) {possible\_quick\_keys\\keys\_in\_use\_for\_query\\keys\_in\_use\_for\_group\\\_by\\keys\_in\_use\_for\_order\\\_by\\used\_keys\\covering\_keys\\merge\_keys\\quick\_keys};
\node[lbl] (l35) at (2700,952) {cond\\icp\_cond};
\node[lbl] (l36) at (1265,1098) {sj\_nest};
\node[lbl] (l37) at (1536,1098) {outer\_context};
\node[lbl] (l38) at (1667,1098) {schema\_table};
\node[lbl] (l39) at (1987,1097.7) {prev\\next};
\node[lbl] (l40) at (2424,1097.6) {part\_of\_sortkey\\part\_of\_key\_not\_clustered\\key\_start\\part\_of\_key};
\node[lbl] (l41) at (3050,1098) {substitution};
\node[lbl] (l42) at (2896.5,1191) {having\\cache\_idx\_cond\\on\_expr\_ref\\pre\_idx\_push\_cond};
\node[lbl] (l43) at (1843,1190.5) {head};
\node[lbl] (l44) at (1917,1191) {table\\orig\_table};
\node[lbl] (l45) at (2053,1190.5) {found\_next\_number\_field\\next\_number\_field\\field};
\node[lbl] (l46) at (2436.6,1191) {needed\_reg\\quick\_keys};
\node[lbl] (l47) at (2589,1190.5) {table};
\node[lbl] (l48) at (1445,1190.5) {tmp\_table};
\node[lbl] (l49) at (1611,1190.5) {table};
\node[lbl] (l50) at (1691,1190.5) {create\_table};
\node[lbl] (l51) at (1828,1265) {group};
\node[lbl] (l52) at (2201,1265) {head};
\node[lbl] (l53) at (2256,1265) {cond\_equal};
\node[lbl] (l54) at (1271,1265) {next};
\node[lbl] (l55) at (2796,1265) {ref};
\node[lbl] (l56) at (3222,1265) {cond};
\node[lbl] (l57) at (2479,1347) {const\_keys\\quick\_order\_tested\\keys\\needed\_reg\\checked\_keys};
\node[lbl] (l58) at (2627,1347) {result\_field};
\node[lbl] (l59) at (2020,1347) {quick};
\node[lbl] (l60) at (2089,1347) {field};
\node[lbl] (l61) at (2124,1347) {field};
\node[lbl] (l62) at (1404.6,1347) {emb\_sj\_nest};
\node[lbl] (l63) at (198,1347) {join\_list};
\node[lbl] (l64) at (3150,1347) {having\\conds\\having\_for\_explain};
\node[lbl] (l65) at (1107,1430) {cond\_equal};
\node[lbl] (l66) at (130,1430) {join\_list};
\node[lbl] (l67) at (481.7,1430) {nested\_join};
\node[lbl] (l68) at (1753.6,1430) {table};
\node[lbl] (l69) at (2044,1430) {next};
\node[lbl] (l70) at (1252,1485.5) {check\_weed\_out\_table\\flush\_weedout\_table};
\node[lbl] (l71) at (1589,1486) {sj\_mat\_exec};
\node[lbl] (l72) at (1803.5,1486) {quick};
\node[lbl] (l73) at (1926.7,1486) {order};
\node[lbl] (l74) at (2137,1486) {next\_copy\_rowid};
\node[lbl] (l75) at (2290,1486) {select};
\node[lbl] (l76) at (2609.6,1486) {keyuse};
\node[lbl] (l77) at (2772,1485.5) {table\\forms};
\node[lbl] (l78) at (3159,1485.5) {engine\\old\_engine};
\node[lbl] (l79) at (3223,1486) {item};
\node[lbl] (l80) at (585.5,1486) {tables\_list};
\node[lbl] (l81) at (1979,1550.5) {copy\_current\_rowid};
\node[lbl] (l82) at (2347,1551) {cache\_select\\select};
\node[lbl] (l83) at (2747,1550.5) {key};
\node[lbl] (l84) at (3015,1551) {sort\_by\_table\\table};
\node[lbl] (l85) at (1099.5,1615.5) {fields\\all\_fields};
\node[lbl] (l86) at (1867,1616.5) {filesort};
\node[lbl] (l87) at (2164,1616.5) {ref\_array};
\node[lbl] (l88) at (2473,1616.5) {select};
\node[lbl] (l89) at (2282,1752) {firstmatch\_return\\save\_read\_first\_record\\materialize\_table\\last\_sj\_inner\_tab\\match\_tab\\read\_first\_record\\first\_inner\\first\_unmatched\\first\_upper\\last\_inner\\...};
\node[lbl] (l90) at (382,1752) {sj\_outer\_exprs\\sj\_inner\_exprs};
\node[lbl] (l91) at (1614,1975) {first\_nested};
\node[lbl] (l92) at (2127,1975) {op};
\node[lbl] (l93) at (2187,1975) {join\_tab};
\node[lbl] (l94) at (2300,1975) {save\_read\_record\\read\_record};
\node[lbl] (l95) at (2421,1975) {unlock\_row};
\node[lbl] (l96) at (2608.5,1975) {table};
\node[lbl] (l97) at (2681,1975) {position};
\node[lbl] (l98) at (2766.5,1975) {prefix\_cost};
\node[lbl] (l99) at (3204,1975) {tab};
\node[lbl] (l100) at (204,1975) {fields\_list\\tmp\_fields\_list1\\tmp\_fields\_list2\\procedure\_fields\\\_list\\tmp\_fields\_list3\\fields\\all\_fields\\tmp\_all\_fields1\\tmp\_all\_fields2\\tmp\_all\_fields3\\...};
\node[lbl] (l101) at (1954,2137.5) {best\_ref\\return\_tab\\map2table\\join\_tab};
\node[lbl] (l102) at (2050,2137.5) {next\_select\\join};
\node[lbl] (l103) at (2551,2137.5) {read\_record};
\node[lbl] (l104) at (2524,2213) {best\_positions\\positions};
\node[lbl] (l105) at (2044,2269.5) {first\_select};
\end{tikzpicture}
\end{document}
